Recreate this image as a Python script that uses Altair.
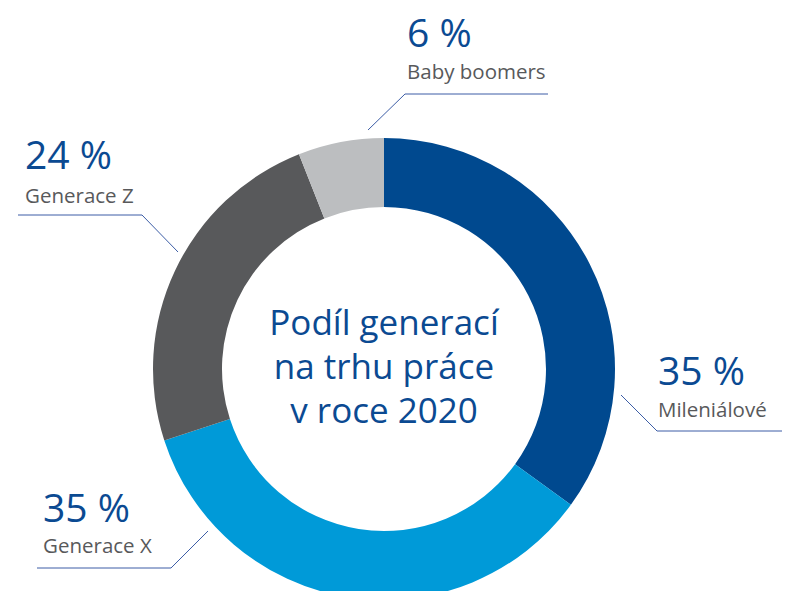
import altair as alt
import pandas as pd

# ---- data ----
categories = ["Mileniálové", "Generace X", "Generace Z", "Baby boomers"]
shares = [35, 35, 24, 6]
pct_labels = ["35 %", "35 %", "24 %", "6 %"]
colors = ["#00498f", "#009ad8", "#58595b", "#bcbec0"]
center_lines = ["Podíl generací", "na trhu práce", "v roce 2020"]

# ---- layout (page pixel coordinates) ----
CX, CY = 384, 369
R_OUT, R_IN = 231, 162
label_x = [658, 43, 25, 407]
pct_base = [385, 522, 169, 47]
name_base = [417, 553, 203, 79]
leader_start = [(621, 395), (208, 531), (178, 252), (368, 130)]
leader_elbow = [(657, 431), (171, 568), (142, 215), (405, 94)]
leader_end = [(782, 431), (37, 568), (18, 215), (548, 94)]

W, H = 784, 583
FONT = "Open Sans"
BLUE = "#0b4a92"
WEIGHT = 400

xs = alt.Scale(domain=[8, 8 + W], nice=False, zero=False)
ys = alt.Scale(domain=[8, 8 + H], nice=False, zero=False, reverse=True)

pie_df = pd.DataFrame({"cat": categories, "share": shares, "ord": list(range(len(categories)))})

ring = alt.Chart(pie_df).mark_arc(radius=R_OUT, radius2=R_IN, stroke=None).encode(
    theta=alt.Theta("share:Q", stack=True),
    order=alt.Order("ord:Q"),
    color=alt.Color("cat:N", scale=alt.Scale(domain=categories, range=colors), legend=None),
    x=alt.datum(CX, scale=xs, axis=None),
    y=alt.datum(CY, scale=ys, axis=None),
)

lab_df = pd.DataFrame({
    "cat": categories, "pct": pct_labels, "x": label_x,
    "yp": pct_base, "yn": name_base,
})

pct_text = alt.Chart(lab_df).mark_text(
    align="left", baseline="alphabetic", font=FONT, fontSize=39,
    fontWeight=WEIGHT, color=BLUE
).encode(
    x=alt.X("x:Q", scale=xs, axis=None),
    y=alt.Y("yp:Q", scale=ys, axis=None),
    text="pct:N",
)

name_text = alt.Chart(lab_df).mark_text(
    align="left", baseline="alphabetic", font=FONT, fontSize=20.5,
    fontWeight=WEIGHT, color="#58595b"
).encode(
    x=alt.X("x:Q", scale=xs, axis=None),
    y=alt.Y("yn:Q", scale=ys, axis=None),
    text="cat:N",
)

rows = []
for i, c in enumerate(categories):
    for j, p in enumerate([leader_start[i], leader_elbow[i], leader_end[i]]):
        rows.append({"cat": c, "k": j, "x": p[0], "y": p[1]})
lead_df = pd.DataFrame(rows)

leaders = alt.Chart(lead_df).mark_line(color="#3c5da6", strokeWidth=1).encode(
    x=alt.X("x:Q", scale=xs, axis=None),
    y=alt.Y("y:Q", scale=ys, axis=None),
    detail="cat:N",
    order="k:Q",
)

center_df = pd.DataFrame({"t": [center_lines], "x": [CX], "y": [335]})
center = alt.Chart(center_df).mark_text(
    align="center", baseline="alphabetic", font=FONT, fontSize=35,
    fontWeight=WEIGHT, lineHeight=44, color=BLUE
).encode(
    x=alt.X("x:Q", scale=xs, axis=None),
    y=alt.Y("y:Q", scale=ys, axis=None),
    text="t",
)

chart = alt.layer(ring, leaders, pct_text, name_text, center).properties(
    width=W, height=H, padding=0,
    autosize=alt.AutoSizeParams(type="none"),
).configure_view(stroke=None)

chart.save("out.html", embed_options={"renderer": "svg", "actions": False})
